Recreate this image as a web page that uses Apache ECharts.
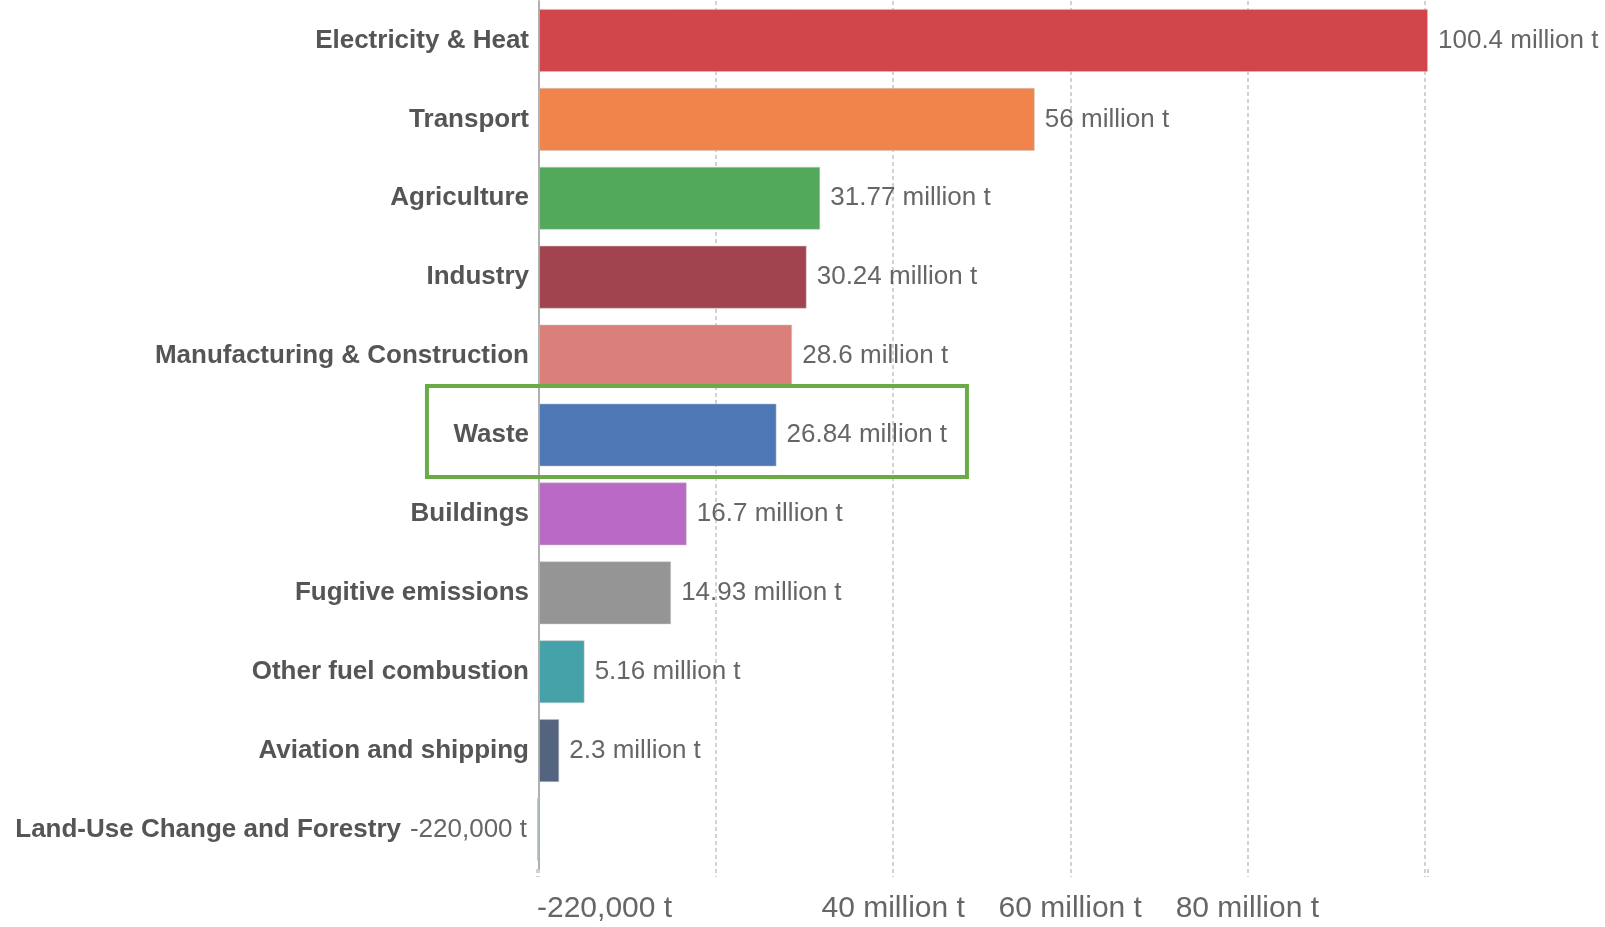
<!DOCTYPE html>
<html>
<head>
<meta charset="utf-8">
<script src="https://cdn.jsdelivr.net/npm/echarts@6/dist/echarts.min.js"></script>
<style>
  html, body { margin: 0; padding: 0; background: #fff; }
  #bar { width: 1605px; height: 927px; }
</style>
</head>
<body>
<div id="bar"></div>
<script>
// sectors, top to bottom
var categories = [
    'Electricity & Heat', 'Transport', 'Agriculture', 'Industry',
    'Manufacturing & Construction', 'Waste', 'Buildings', 'Fugitive emissions',
    'Other fuel combustion', 'Aviation and shipping', 'Land-Use Change and Forestry'
];
// tonnes CO2e
var values = [100400000, 56000000, 31770000, 30240000, 28600000, 26840000,
              16700000, 14930000, 5160000, 2300000, -220000];
var valueLabels = ['100.4 million t', '56 million t', '31.77 million t', '30.24 million t',
                   '28.6 million t', '26.84 million t', '16.7 million t', '14.93 million t',
                   '5.16 million t', '2.3 million t', '-220,000 t'];
var barColors = ['#d0464a', '#f0844b', '#53a95b', '#a2444f', '#da7f79', '#4e77b6',
                 '#b86ac4', '#959595', '#44a2a8', '#55647e', '#6fb08a'];
// tick labels that are visible on the x axis
var tickValues = [-220000, 40000000, 60000000, 80000000];
var tickLabels = ['-220,000 t', '40 million t', '60 million t', '80 million t'];
var highlighted = 'Waste';

var chart = echarts.init(document.getElementById('bar'), null, {renderer: 'canvas'});

var data = values.map(function (v, i) {
    return {
        value: v,
        itemStyle: {color: barColors[i]},
        label: {position: v < 0 ? 'left' : 'right'}
    };
});

chart.setOption({
    animation: false,
    grid: {left: 537, right: 177, top: 1, bottom: 58, containLabel: false},
    xAxis: {
        type: 'value',
        min: -220000,
        max: 100400000,
        axisLine: {show: false},
        axisTick: {
            show: true, length: 8,
            lineStyle: {color: '#c4c4c4', type: [4, 3], width: 1.5}
        },
        splitLine: {
            show: true, showMinLine: false, showMaxLine: false,
            lineStyle: {color: '#c4c4c4', type: [4, 3], width: 1.5}
        },
        axisLabel: {
            margin: 25,
            fontFamily: 'Liberation Sans',
            fontSize: 30,
            color: '#666',
            showMinLabel: true,
            showMaxLabel: true,
            alignMinLabel: 'left',
            hideOverlap: false,
            formatter: function (v) {
                var k = tickValues.indexOf(v);
                return k < 0 ? '' : tickLabels[k];
            }
        }
    },
    yAxis: {
        type: 'category',
        inverse: true,
        data: categories,
        axisLine: {show: true, lineStyle: {color: '#b0b0b0', width: 2}},
        axisTick: {show: false},
        axisLabel: {
            margin: 8,
            fontFamily: 'Liberation Sans',
            fontWeight: 'bold',
            fontSize: 26,
            color: '#555',
            formatter: function (v) {
                var i = categories.indexOf(v);
                return values[i] < 0 ? v + '{pad|}' : v;
            },
            rich: {pad: {width: 128}}
        }
    },
    series: [{
        type: 'bar',
        data: data,
        barCategoryGap: '20%',
        itemStyle: {borderColor: 'rgba(200,200,200,0.5)', borderWidth: 1},
        label: {
            show: true,
            distance: 10,
            fontFamily: 'Liberation Sans',
            fontSize: 26,
            color: '#666',
            formatter: function (p) { return valueLabels[p.dataIndex]; }
        }
    }]
});

// green box round the highlighted row
var idx = categories.indexOf(highlighted);
var yc = chart.convertToPixel({yAxisIndex: 0}, idx);
var x0 = chart.convertToPixel({xAxisIndex: 0}, 0);
chart.setOption({
    graphic: [{
        type: 'rect',
        shape: {x: x0 - 112, y: yc - 49, width: 540, height: 91},
        style: {fill: 'none', stroke: '#6aab47', lineWidth: 4},
        z: 100
    }]
});
</script>
</body>
</html>
